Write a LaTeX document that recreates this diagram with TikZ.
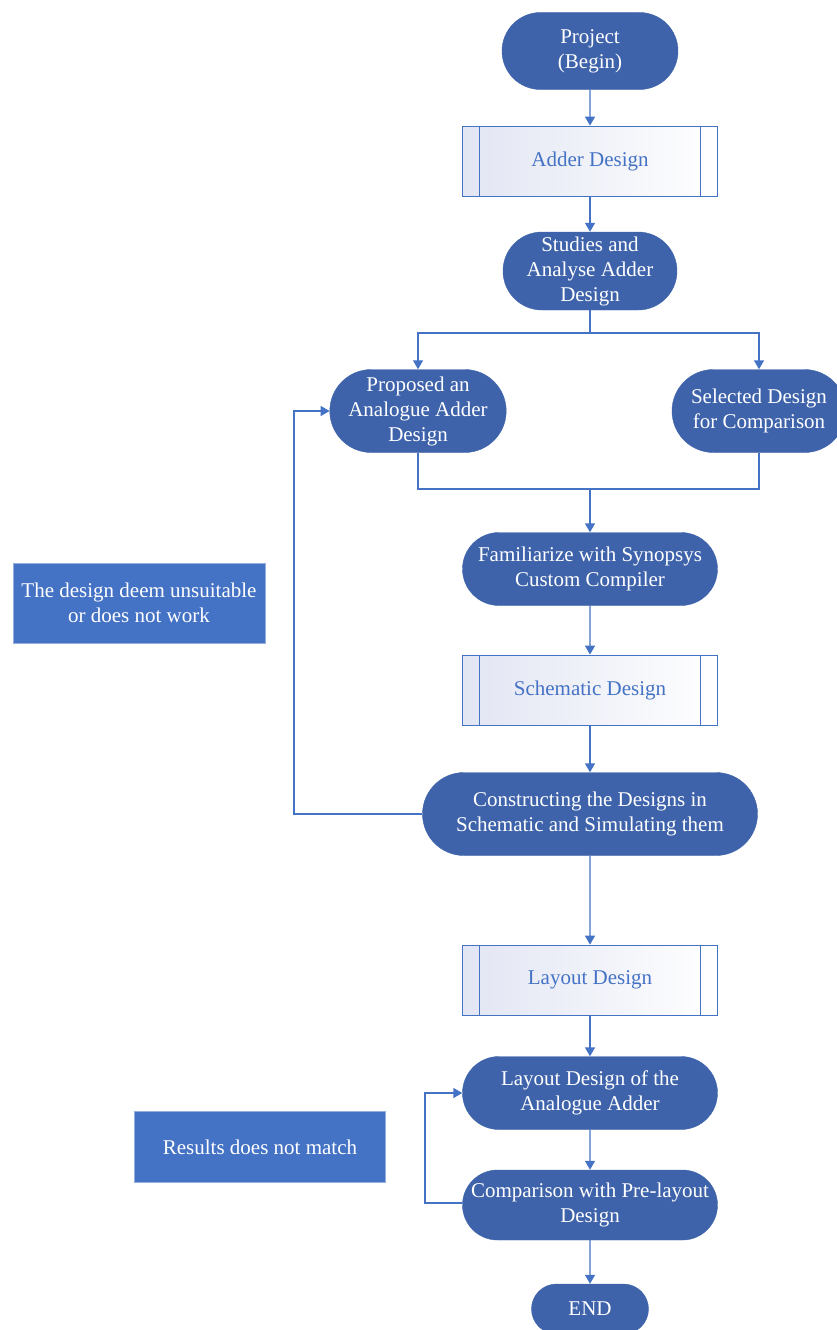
\documentclass[tikz,border=0pt]{standalone}
\usepackage{fontspec}
\setmainfont{Liberation Serif}
\usetikzlibrary{shapes.misc,arrows.meta}
\newlength{\du}
\setlength{\du}{1pt}
\definecolor{termcolor}{RGB}{62,99,170}
\definecolor{linecolor}{RGB}{68,114,196}
\definecolor{edgecolor}{RGB}{150,175,222}
\definecolor{shadecolor}{RGB}{226,229,243}
\tikzset{
  terminal/.style={rounded rectangle, fill=termcolor, draw=termcolor, text=white,
    align=center, inner sep=0pt, font=\fontsize{21}{25}\selectfont},
  process/.style={rectangle, draw=linecolor, line width=0.8pt, left color=shadecolor,
    right color=white, text=linecolor, minimum width=255\du, minimum height=70\du,
    font=\fontsize{21}{25}\selectfont,
    path picture={
      \draw[linecolor, line width=0.8pt]
        ([xshift=17\du]path picture bounding box.north west) --
        ([xshift=17\du]path picture bounding box.south west);
      \draw[linecolor, line width=0.8pt]
        ([xshift=-17\du]path picture bounding box.north east) --
        ([xshift=-17\du]path picture bounding box.south east);
    }},
  note/.style={rectangle, fill=linecolor, draw=edgecolor, line width=1pt, text=white,
    align=center, font=\fontsize{21}{25}\selectfont},
  flow/.style={draw=linecolor, line width=1.4pt},
  arr/.style={flow, -{Triangle[width=10pt,length=9pt]}}
}
\begin{document}
\begin{tikzpicture}[yscale=-1]
\useasboundingbox (0,0) rectangle (837\du,1330\du);
% main column
\node[terminal, minimum width=176\du, minimum height=77\du] (begin) at (590\du,51\du) {Project\\(Begin)};
\node[process] (adder) at (590\du,161\du) {Adder Design};
\node[terminal, minimum width=174\du, minimum height=78\du] (studies) at (590\du,271\du) {Studies and\\Analyse Adder\\Design};
\node[terminal, minimum width=170\du, minimum height=83\du] (proposed) at (418\du,411\du) {Proposed an\\Analogue Adder\\Design};
\node[terminal, minimum width=174\du, minimum height=83\du] (selected) at (759\du,411\du) {Selected Design\\for Comparison};
\node[terminal, minimum width=255\du, minimum height=73\du] (familiar) at (590\du,569\du) {Familiarize with Synopsys\\Custom Compiler};
\node[process] (schematic) at (590\du,690\du) {Schematic Design};
\node[terminal, minimum width=335\du, minimum height=83\du] (construct) at (590\du,814\du) {Constructing the Designs in\\Schematic and Simulating them};
\node[process] (layout) at (590\du,980\du) {Layout Design};
\node[terminal, minimum width=255\du, minimum height=73\du] (layadder) at (590\du,1093\du) {Layout Design of the\\Analogue Adder};
\node[terminal, minimum width=255\du, minimum height=70\du] (compare) at (590\du,1205\du) {Comparison with Pre-layout\\Design};
\node[terminal, minimum width=117\du, minimum height=50\du] (finish) at (590\du,1309\du) {END};
% side notes
\node[note, minimum width=252\du, minimum height=80\du] (unsuit) at (139\du,603\du) {The design deem unsuitable\\or does not work};
\node[note, minimum width=251\du, minimum height=71\du] (nomatch) at (260\du,1147\du) {Results does not match};
% connectors
\coordinate (split) at (590\du,333\du);
\coordinate (join) at (590\du,489\du);
\coordinate (loopa) at (294\du,814\du);
\coordinate (loopb) at (425\du,1203\du);
\draw[arr] (begin) -- (adder);
\draw[arr] (adder) -- (studies);
\draw[flow] (studies) -- (split);
\draw[arr] (split) -| (proposed);
\draw[arr] (split) -| (selected);
\draw[flow] (proposed.south) |- (join);
\draw[flow] (selected.south) |- (join);
\draw[arr] (join) -- (familiar);
\draw[arr] (familiar) -- (schematic);
\draw[arr] (schematic) -- (construct);
\draw[arr] (construct.west) -- (loopa) |- (proposed.west);
\draw[arr] (construct) -- (layout);
\draw[arr] (layout) -- (layadder);
\draw[arr] (layadder) -- (compare);
\draw[arr] (compare.west |- loopb) -- (loopb) |- (layadder.west);
\draw[arr] (compare) -- (finish);
\end{tikzpicture}
\end{document}
